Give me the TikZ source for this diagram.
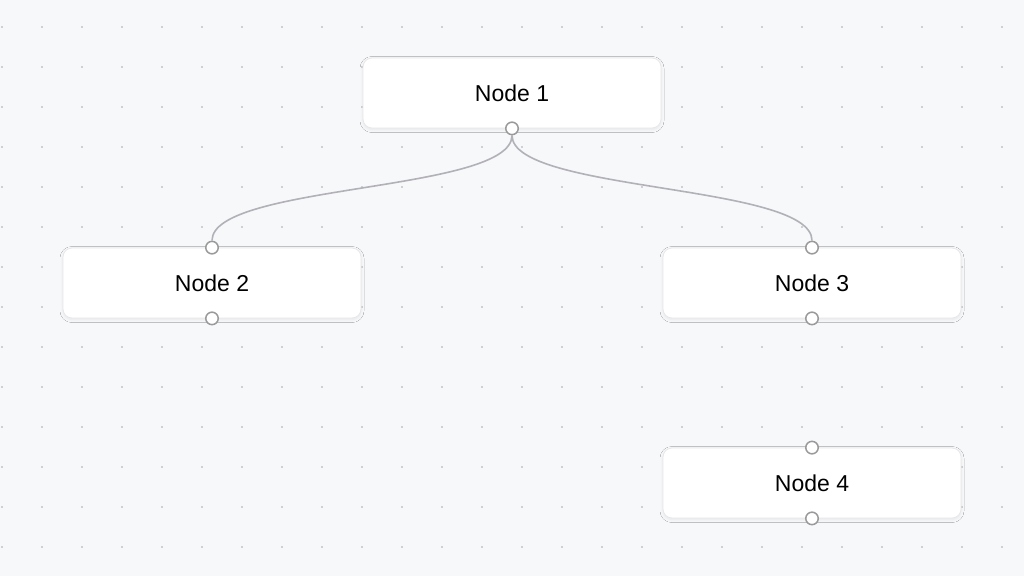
\documentclass[tikz,border=0pt]{standalone}
\usepackage{fontspec}
\setmainfont{Liberation Sans}
\usetikzlibrary{shadows.blur}
\definecolor{bg}{HTML}{F7F8FA}
\definecolor{dotc}{HTML}{A8A8AE}
\definecolor{edgec}{HTML}{B1B1B7}
\definecolor{handlec}{HTML}{9A9A9A}
\definecolor{nodeborder}{HTML}{E8E8EA}
\begin{document}
\begin{tikzpicture}[x=1pt,y=-1pt,
  flownode/.style={draw=nodeborder, line width=0.8pt, fill=white, rounded corners=9pt,
    minimum width=298pt, minimum height=70pt, inner sep=0pt,
    font=\fontsize{23}{27}\selectfont, text=black,
    blur shadow={shadow blur steps=6, shadow xshift=0pt, shadow yshift=-1.5pt, shadow opacity=7, shadow blur radius=3pt}},
  handle/.style={circle, draw=handlec, fill=white, line width=1.5pt, minimum size=12.5pt, inner sep=0pt},
  edge/.style={draw=edgec, line width=1.6pt}]
\fill[bg] (0,0) rectangle (1024,576);
\useasboundingbox (0,0) rectangle (1024,576);
\foreach \gx in {2,42,...,1002}{
  \foreach \gy in {27,67,...,547}{
    \fill[dotc] (\gx,\gy) circle (0.9pt);
  }
}
\node[flownode] (n1) at (512,93) {Node 1};
\node[flownode] (n2) at (212,283) {Node 2};
\node[flownode] (n3) at (812,283) {Node 3};
\node[flownode] (n4) at (812,483) {Node 4};
\node[handle] (h1b) at (n1.south) {};
\node[handle] (h2t) at (n2.north) {};
\node[handle] (h2b) at (n2.south) {};
\node[handle] (h3t) at (n3.north) {};
\node[handle] (h3b) at (n3.south) {};
\node[handle] (h4t) at (n4.north) {};
\node[handle] (h4b) at (n4.south) {};
\draw[edge] (h1b.south) .. controls +(0,57) and +(0,-57) .. (h2t.north);
\draw[edge] (h1b.south) .. controls +(0,57) and +(0,-57) .. (h3t.north);
\end{tikzpicture}
\end{document}
